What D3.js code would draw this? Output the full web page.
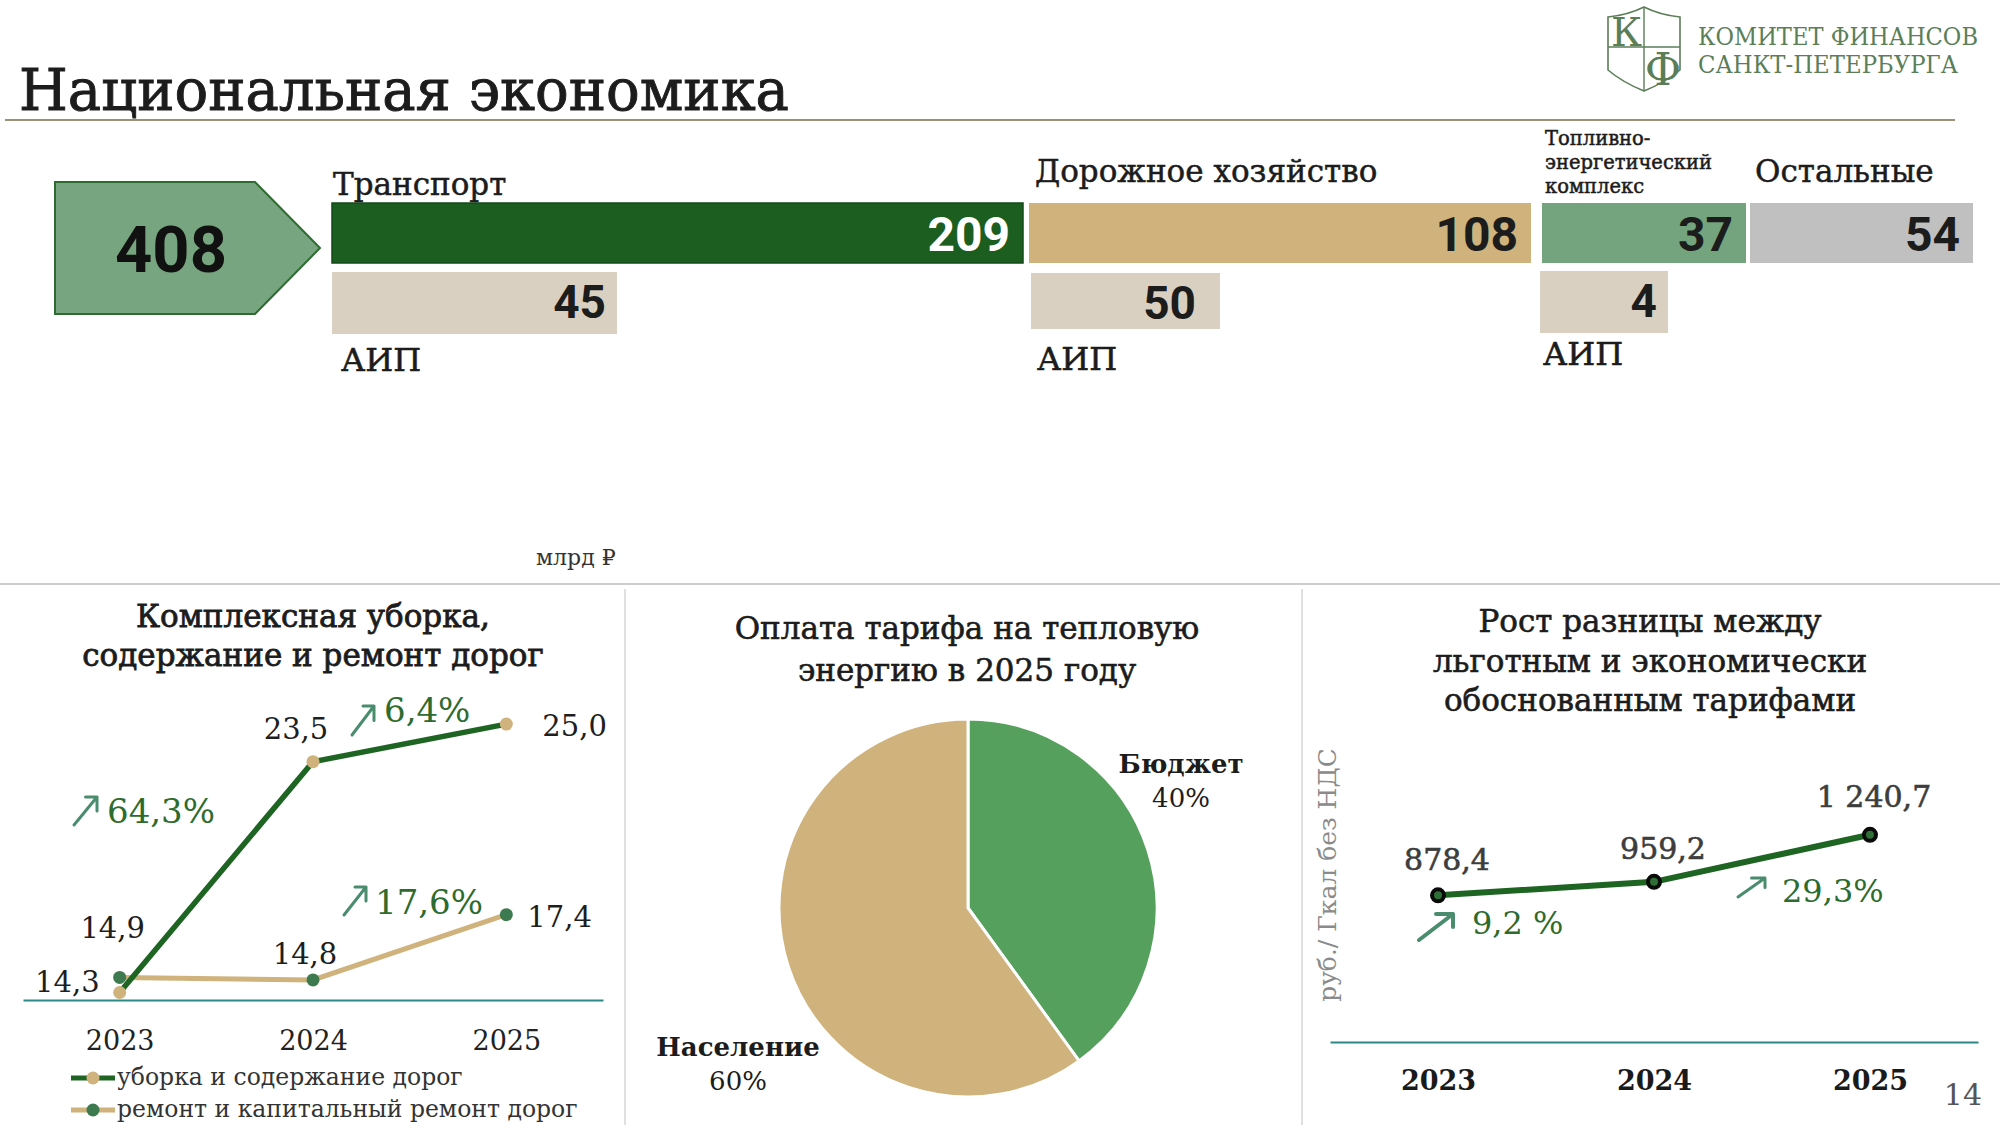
<!DOCTYPE html>
<html>
<head>
<meta charset="utf-8">
<script src="https://cdn.jsdelivr.net/npm/d3@7"></script>
<style>
  html, body { margin: 0; padding: 0; background: #fff; }
  svg { display: block; }
  text { font-family: "DejaVu Serif", serif; }
  .num { font-family: Roboto, "Noto Sans", sans-serif; font-weight: 700; }
</style>
</head>
<body>
<svg id="chart" width="2000" height="1125"></svg>
<script>
// ---------------------------------------------------------------------------
// Data

const totalValue = 408;
const sectors = ["Транспорт", "Дорожное хозяйство", "Топливно-энергетический комплекс", "Остальные"];
const sectorValues = [209, 108, 37, 54];
const aipValues = [45, 50, 4];

const years = ["2023", "2024", "2025"];
const roadCleaning = [14.3, 23.5, 25.0];
const roadRepair = [14.9, 14.8, 17.4];
const cleaningGrowth = ["64,3%", "6,4%"];
const repairGrowth = ["17,6%"];
const seriesNames = ["уборка и содержание дорог", "ремонт и капитальный ремонт дорог"];

const payers = ["Бюджет", "Население"];
const payerShares = [40, 60];

const tariffGap = [878.4, 959.2, 1240.7];
const tariffGrowth = ["9,2 %", "29,3%"];

// ---------------------------------------------------------------------------
// Layout (boxes of the top infographic are drawn by hand in the original)

const topBoxes = [
  { x0: 332, x1: 1023, labelX: 333, labelY: 195 },
  { x0: 1029, x1: 1531, labelX: 1035, labelY: 182 },
  { x0: 1542, x1: 1746, labelX: 1545, labelY: 145, wrap: true },
  { x0: 1750, x1: 1973, labelX: 1755, labelY: 182 }
];
const aipBoxes = [
  { x0: 332, x1: 617, y0: 272, y1: 334, pad: 11, labelX: 341, labelY: 371 },
  { x0: 1031, x1: 1220, y0: 273, y1: 329, pad: 24, labelX: 1037, labelY: 370 },
  { x0: 1540, x1: 1668, y0: 271, y1: 333, pad: 11, labelX: 1543, labelY: 365 }
];
const sectorColors = ["#1b5e20", "#cfb27c", "#74a47e", "#c0c0c0"];
const sectorInk = ["#ffffff", "#1c1c1c", "#1c1c1c", "#1c1c1c"];

const ink = "#1c1c1c";
const darkGreen = "#1e6422";
const tan = "#cfb27c";
const teal = "#2b8a86";
const growthInk = "#2e6b2e";
const arrowInk = "#4a8c6e";

const ru = d3.formatLocale({ decimal: ",", thousands: "\u00a0", grouping: [3], currency: ["", ""] });
const fmt = ru.format(",.1f");

const svg = d3.select("#chart");

// medium weight look for the slab serif texts
const medium = (sel, w) => sel.attr("stroke", sel.attr("fill")).attr("stroke-width", w).attr("paint-order", "stroke");

// ---------------------------------------------------------------------------
// Header

medium(svg.append("text")
  .attr("x", 19).attr("y", 110)
  .attr("font-size", 57).attr("fill", ink)
  .attr("textLength", 770).attr("lengthAdjust", "spacingAndGlyphs")
  .text("Национальная экономика"), 0.9);

svg.append("line")
  .attr("x1", 5).attr("x2", 1955).attr("y1", 120).attr("y2", 120)
  .attr("stroke", "#7d6b4a").attr("stroke-width", 1.6);

// logo
const logoColor = "#5b7e57";
const logo = svg.append("g");
logo.append("path")
  .attr("d", "M1644,7 Q1628,15 1608,17 V70 Q1622,82 1644,91 Q1666,82 1680,70 V17 Q1660,15 1644,7 Z")
  .attr("fill", "none").attr("stroke", logoColor).attr("stroke-width", 1.6);
logo.append("line").attr("x1", 1644).attr("x2", 1644).attr("y1", 7).attr("y2", 91)
  .attr("stroke", logoColor).attr("stroke-width", 1.4);
logo.append("line").attr("x1", 1608).attr("x2", 1680).attr("y1", 47).attr("y2", 47)
  .attr("stroke", logoColor).attr("stroke-width", 1.4);
logo.append("text").attr("x", 1611).attr("y", 46)
  .attr("font-family", "Liberation Serif").attr("font-size", 40).attr("fill", logoColor).text("К");
logo.append("text").attr("x", 1663).attr("y", 85).attr("text-anchor", "middle")
  .attr("font-family", "Liberation Serif").attr("font-size", 44).attr("fill", logoColor).text("Ф");
logo.selectAll("text.name")
  .data(["КОМИТЕТ ФИНАНСОВ", "САНКТ-ПЕТЕРБУРГА"])
  .join("text")
  .attr("class", "name")
  .attr("x", 1698).attr("y", (d, i) => 45 + i * 28)
  .attr("font-family", "Liberation Serif").attr("font-size", 23.5)
  .attr("textLength", (d, i) => (i === 0 ? 280 : 260)).attr("lengthAdjust", "spacingAndGlyphs")
  .attr("fill", logoColor)
  .text((d) => d);

// ---------------------------------------------------------------------------
// Top infographic

svg.append("path")
  .attr("d", "M55,182 H255 L320,248 L255,314 H55 Z")
  .attr("fill", "#76a57f").attr("stroke", "#2e6b30").attr("stroke-width", 2);
svg.append("text").attr("class", "num")
  .attr("x", 171).attr("y", 272).attr("text-anchor", "middle")
  .attr("font-size", 65).attr("fill", "#111")
  .text(totalValue);

const topG = svg.append("g");
topG.selectAll("rect.sector")
  .data(sectorValues)
  .join("rect")
  .attr("class", "sector")
  .attr("x", (d, i) => topBoxes[i].x0)
  .attr("width", (d, i) => topBoxes[i].x1 - topBoxes[i].x0)
  .attr("y", 203).attr("height", 60)
  .attr("fill", (d, i) => sectorColors[i])
  .attr("stroke", (d, i) => (i === 0 ? "#15491a" : "none"))
  .attr("stroke-width", 1.5);

topG.selectAll("text.sectorValue")
  .data(sectorValues)
  .join("text")
  .attr("class", "num sectorValue")
  .attr("x", (d, i) => topBoxes[i].x1 - 13)
  .attr("y", 251)
  .attr("text-anchor", "end")
  .attr("font-size", 48)
  .attr("fill", (d, i) => sectorInk[i])
  .text((d) => d);

sectors.forEach((name, i) => {
  const b = topBoxes[i];
  if (b.wrap) {
    const lines = name.replace("-", "-\n").split(/\n| /);
    lines.forEach((line, j) => {
      medium(topG.append("text")
        .attr("x", b.labelX).attr("y", b.labelY + j * 24)
        .attr("font-size", 19.5).attr("fill", ink)
        .text(line), 0.5);
    });
  } else {
    medium(topG.append("text")
      .attr("x", b.labelX).attr("y", b.labelY)
      .attr("font-size", 31).attr("fill", ink)
      .text(name), 0.5);
  }
});

topG.selectAll("rect.aip")
  .data(aipValues)
  .join("rect")
  .attr("class", "aip")
  .attr("x", (d, i) => aipBoxes[i].x0)
  .attr("width", (d, i) => aipBoxes[i].x1 - aipBoxes[i].x0)
  .attr("y", (d, i) => aipBoxes[i].y0)
  .attr("height", (d, i) => aipBoxes[i].y1 - aipBoxes[i].y0)
  .attr("fill", "#d9d0c2");

topG.selectAll("text.aipValue")
  .data(aipValues)
  .join("text")
  .attr("class", "num aipValue")
  .attr("x", (d, i) => aipBoxes[i].x1 - aipBoxes[i].pad)
  .attr("y", (d, i) => aipBoxes[i].y0 + 46)
  .attr("text-anchor", "end")
  .attr("font-size", 46)
  .attr("fill", ink)
  .text((d) => d);

topG.selectAll("text.aipLabel")
  .data(aipValues)
  .join("text")
  .attr("class", "aipLabel")
  .attr("x", (d, i) => aipBoxes[i].labelX)
  .attr("y", (d, i) => aipBoxes[i].labelY)
  .attr("font-size", 32).attr("fill", ink)
  .attr("stroke", ink).attr("stroke-width", 0.6)
  .text("АИП");

svg.append("text")
  .attr("x", 536).attr("y", 565)
  .attr("font-size", 22).attr("fill", "#333")
  .text("млрд ₽");

// dividers
svg.append("line").attr("x1", 0).attr("x2", 2000).attr("y1", 584).attr("y2", 584)
  .attr("stroke", "#bdbdbd").attr("stroke-width", 1.5);
[625, 1302].forEach((x) => {
  svg.append("line").attr("x1", x).attr("x2", x).attr("y1", 589).attr("y2", 1125)
    .attr("stroke", "#d6d6d6").attr("stroke-width", 1.5);
});

// small helper for the "↗" growth marks
const growthArrow = (g, x, y, w, h, sw) => {
  g.append("path")
    .attr("d", `M${x},${y} L${x + w},${y - h} M${x + w - w * 0.5},${y - h} L${x + w},${y - h} L${x + w},${y - h + h * 0.5}`)
    .attr("fill", "none").attr("stroke", arrowInk)
    .attr("stroke-width", sw).attr("stroke-linecap", "round").attr("stroke-linejoin", "round");
};

// ---------------------------------------------------------------------------
// Bottom left: road cleaning and repair

const left = svg.append("g");
const xL = d3.scalePoint().domain(years).range([23, 603]).padding(0.5);
const yL = d3.scaleLinear().domain([14, 26]).range([1000, 699]);

["Комплексная уборка,", "содержание и ремонт дорог"].forEach((t, i) => {
  medium(left.append("text")
    .attr("x", 313).attr("y", 627 + i * 39)
    .attr("text-anchor", "middle")
    .attr("font-size", 31).attr("fill", ink)
    .text(t), 0.8);
});

const axisL = left.append("g")
  .attr("transform", `translate(0,${yL(14)})`)
  .call(d3.axisBottom(xL).tickSize(0).tickSizeOuter(0).tickPadding(31));
axisL.select(".domain").attr("stroke", teal).attr("stroke-width", 2);
axisL.selectAll("text")
  .attr("font-family", "DejaVu Serif").attr("font-size", 27).attr("fill", "#222");

const lineL = (vals) => d3.line().x((d, i) => xL(years[i])).y((d) => yL(d))(vals);

left.append("path").attr("d", lineL(roadRepair))
  .attr("fill", "none").attr("stroke", tan).attr("stroke-width", 5);
left.append("path").attr("d", lineL(roadCleaning))
  .attr("fill", "none").attr("stroke", darkGreen).attr("stroke-width", 5.5);

left.selectAll("circle.cleaning")
  .data(roadCleaning)
  .join("circle")
  .attr("class", "cleaning")
  .attr("cx", (d, i) => xL(years[i])).attr("cy", (d) => yL(d))
  .attr("r", 6.5).attr("fill", tan);
left.selectAll("circle.repair")
  .data(roadRepair)
  .join("circle")
  .attr("class", "repair")
  .attr("cx", (d, i) => xL(years[i])).attr("cy", (d) => yL(d))
  .attr("r", 6.5).attr("fill", "#3e7a4f");

const cleaningOffsets = [[-20, 0, "end"], [-17, -23, "middle"], [36, 12, "start"]];
const repairOffsets = [[-7, -39, "middle"], [-8, -16, "middle"], [21, 12, "start"]];

const valueLabels = (cls, vals, offs) => {
  left.selectAll(`text.${cls}`)
    .data(vals)
    .join("text")
    .attr("class", cls)
    .attr("x", (d, i) => xL(years[i]) + offs[i][0])
    .attr("y", (d, i) => yL(d) + offs[i][1])
    .attr("text-anchor", (d, i) => offs[i][2])
    .attr("font-size", 29).attr("fill", "#1e1e1e")
    .text((d) => fmt(d));
};
valueLabels("cleaningLabel", roadCleaning, cleaningOffsets);
valueLabels("repairLabel", roadRepair, repairOffsets);

const leftGrowthPos = [
  { text: cleaningGrowth[0], ax: 74, ay: 825, w: 23, h: 28, tx: 107, ty: 823 },
  { text: cleaningGrowth[1], ax: 352, ay: 735, w: 22, h: 29, tx: 384, ty: 722 },
  { text: repairGrowth[0], ax: 344, ay: 915, w: 22, h: 28, tx: 375, ty: 914 }
];
leftGrowthPos.forEach((p) => {
  growthArrow(left, p.ax, p.ay, p.w, p.h, 3);
  left.append("text")
    .attr("x", p.tx).attr("y", p.ty)
    .attr("font-size", 34).attr("fill", growthInk)
    .text(p.text);
});

// legend
const legendL = left.selectAll("g.legend")
  .data(seriesNames)
  .join("g")
  .attr("class", "legend")
  .attr("transform", (d, i) => `translate(0,${1078 + i * 32})`);
legendL.append("line")
  .attr("x1", 71).attr("x2", 115).attr("y1", 0).attr("y2", 0)
  .attr("stroke", (d, i) => (i === 0 ? darkGreen : tan)).attr("stroke-width", 5);
legendL.append("circle")
  .attr("cx", 93).attr("cy", 0).attr("r", 6.5)
  .attr("fill", (d, i) => (i === 0 ? tan : "#3e7a4f"));
legendL.append("text")
  .attr("x", 117).attr("y", 7)
  .attr("font-size", 23.5).attr("fill", "#333")
  .text((d) => d);

// ---------------------------------------------------------------------------
// Bottom middle: pie

const mid = svg.append("g");
["Оплата тарифа на тепловую", "энергию в 2025 году"].forEach((t, i) => {
  medium(mid.append("text")
    .attr("x", 967).attr("y", 639 + i * 42)
    .attr("text-anchor", "middle")
    .attr("font-size", 31).attr("fill", ink)
    .text(t), 0.6);
});

const pie = d3.pie().sort(null).value((d) => d);
const arc = d3.arc().innerRadius(0).outerRadius(189);
const pieColors = ["#56a05e", tan];

mid.append("g")
  .attr("transform", "translate(968,908)")
  .selectAll("path")
  .data(pie(payerShares))
  .join("path")
  .attr("d", arc)
  .attr("fill", (d, i) => pieColors[i])
  .attr("stroke", "#fff").attr("stroke-width", 3);

const pieLabelPos = [{ x: 1181, y: 773 }, { x: 738, y: 1056 }];
payers.forEach((name, i) => {
  mid.append("text")
    .attr("x", pieLabelPos[i].x).attr("y", pieLabelPos[i].y)
    .attr("text-anchor", "middle")
    .attr("font-size", 26).attr("font-weight", 700).attr("fill", ink)
    .text(name);
  mid.append("text")
    .attr("x", pieLabelPos[i].x).attr("y", pieLabelPos[i].y + 34)
    .attr("text-anchor", "middle")
    .attr("font-size", 26).attr("fill", ink)
    .text(payerShares[i] + "%");
});

// ---------------------------------------------------------------------------
// Bottom right: tariff gap

const right = svg.append("g");
const xR = d3.scalePoint().domain(years).range([1330, 1978]).padding(0.5);
const yR = d3.scaleLinear().domain([0, 1500]).range([1042, 791.5]);

["Рост разницы между", "льготным и экономически", "обоснованным тарифами"].forEach((t, i) => {
  medium(right.append("text")
    .attr("x", 1650).attr("y", 632 + i * 39.5)
    .attr("text-anchor", "middle")
    .attr("font-size", 31).attr("fill", ink)
    .text(t), 0.6);
});

right.append("text")
  .attr("transform", "translate(1336,875) rotate(-90)")
  .attr("text-anchor", "middle")
  .attr("font-size", 25).attr("fill", "#8a8a8a")
  .text("руб./ Гкал без НДС");

const axisR = right.append("g")
  .attr("transform", `translate(0,${yR(0)})`)
  .call(d3.axisBottom(xR).tickSize(0).tickSizeOuter(0).tickPadding(29));
axisR.select(".domain").attr("stroke", teal).attr("stroke-width", 2);
axisR.selectAll("text")
  .attr("font-family", "DejaVu Serif").attr("font-size", 27)
  .attr("font-weight", 700).attr("fill", "#1a1a1a");

right.append("path")
  .attr("d", d3.line().x((d, i) => xR(years[i])).y((d) => yR(d))(tariffGap))
  .attr("fill", "none").attr("stroke", darkGreen).attr("stroke-width", 6);

right.selectAll("circle")
  .data(tariffGap)
  .join("circle")
  .attr("cx", (d, i) => xR(years[i])).attr("cy", (d) => yR(d))
  .attr("r", 6).attr("fill", "#2f6e36")
  .attr("stroke", "#0a0a0a").attr("stroke-width", 4);

const tariffOffsets = [[9, -25], [9, -23], [4, -28]];
right.selectAll("text.tariffLabel")
  .data(tariffGap)
  .join("text")
  .attr("class", "tariffLabel")
  .attr("x", (d, i) => xR(years[i]) + tariffOffsets[i][0])
  .attr("y", (d, i) => yR(d) + tariffOffsets[i][1])
  .attr("text-anchor", "middle")
  .attr("font-size", 30).attr("fill", "#3d3d3d")
  .attr("stroke", "#3d3d3d").attr("stroke-width", 0.6)
  .text((d) => fmt(d));

const rightGrowthPos = [
  { text: tariffGrowth[0], ax: 1419, ay: 940, w: 34, h: 26, sw: 4, tx: 1472, ty: 934 },
  { text: tariffGrowth[1], ax: 1738, ay: 897, w: 27, h: 19, sw: 3, tx: 1782, ty: 902 }
];
rightGrowthPos.forEach((p) => {
  growthArrow(right, p.ax, p.ay, p.w, p.h, p.sw);
  right.append("text")
    .attr("x", p.tx).attr("y", p.ty)
    .attr("font-size", 32).attr("fill", growthInk)
    .text(p.text);
});

// page number
svg.append("text")
  .attr("x", 1982).attr("y", 1105).attr("text-anchor", "end")
  .attr("font-size", 30).attr("fill", "#555")
  .text("14");
</script>
</body>
</html>
